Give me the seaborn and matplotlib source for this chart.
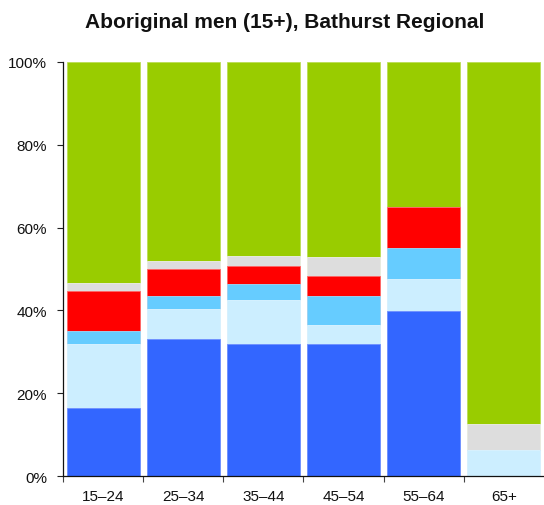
import matplotlib
matplotlib.use("Agg")
import matplotlib.pyplot as plt
import seaborn as sns
import pandas as pd
import numpy as np
from matplotlib.ticker import FixedLocator, PercentFormatter

sns.set_theme(style="white")
plt.rcParams['font.family'] = ['Liberation Sans', 'DejaVu Sans']

categories = ['15–24', '25–34', '35–44', '45–54', '55–64', '65+']
seg_blue = [16.5, 33.0, 31.8, 31.8, 39.9, 0.0]
seg_light = [15.3, 7.4, 10.7, 4.8, 7.7, 6.3]
seg_medium = [3.2, 3.2, 3.8, 6.9, 7.5, 0.0]
seg_red = [9.6, 6.4, 4.5, 4.7, 9.9, 0.0]
seg_grey = [2.0, 1.9, 2.3, 4.8, 0.0, 6.3]
seg_green = [53.4, 48.1, 46.9, 47.0, 35.0, 87.4]
yticks = [0, 20, 40, 60, 80, 100]
title = "Aboriginal men (15+), Bathurst Regional"

segments = [seg_blue, seg_light, seg_medium, seg_red, seg_grey, seg_green]
colors = ['#3366FF', '#CCEEFF', '#66CCFF', '#FF0000', '#DDDDDD', '#99CC00']
edges = ['#6f8fff', '#dff4ff', '#99ddff', '#ff6666', '#eeeeee', '#bbdd55']

cum = np.zeros(len(categories))
cums = []
for s in segments:
    cum = cum + np.array(s)
    cums.append(cum.copy())

fig = plt.figure(figsize=(5.44, 5.06), dpi=100)
ax = fig.add_axes([63/544, (506-477.3)/506, (544-63)/544, (477.3-62.7)/506])

for i in reversed(range(len(segments))):
    d = pd.DataFrame({'cat': categories, 'val': cums[i]})
    sns.barplot(data=d, x='cat', y='val', order=categories, color=colors[i],
                width=0.91, saturation=1, edgecolor=edges[i], linewidth=0.6, ax=ax)

ax.set_xlim(-0.5, 5.5)
ax.set_ylim(0, 100)
ax.set_xlabel('')
ax.set_ylabel('')
ax.set_yticks(yticks)
ax.yaxis.set_major_formatter(PercentFormatter(decimals=0))
ax.xaxis.set_minor_locator(FixedLocator(np.arange(-0.5, 5.0, 1.0)))
ax.tick_params(axis='x', which='major', length=0, pad=9, labelsize=11, colors='#111111')
ax.tick_params(axis='x', which='minor', bottom=True, length=4, width=0.8, color='#444444')
ax.tick_params(axis='y', which='major', left=True, length=4.5, width=0.8, pad=7, labelsize=11, color='#222222', labelcolor='#111111')
for sp in ['top', 'right']:
    ax.spines[sp].set_visible(False)
for sp in ['left', 'bottom']:
    ax.spines[sp].set_color('#111111')
    ax.spines[sp].set_linewidth(0.9)

fig.text(285/544, 1 - 22.5/506, title, ha='center', va='center', fontsize=15, fontweight='bold', color='#111111')

fig.savefig('out.png', dpi=100)
